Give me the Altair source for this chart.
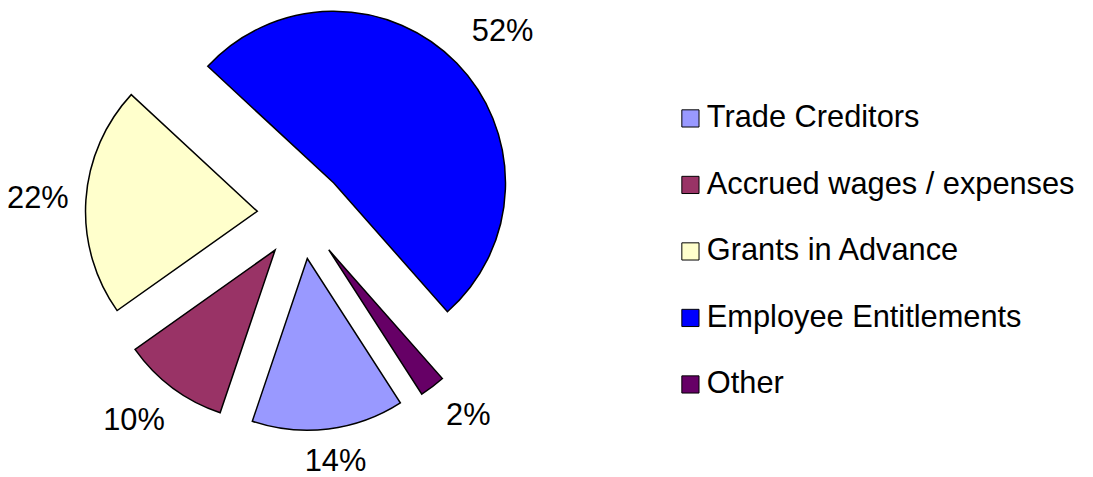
import math
import altair as alt
import pandas as pd

# ---- data (slice shares, %) ----
categories = ["Trade Creditors", "Accrued wages / expenses", "Grants in Advance",
              "Employee Entitlements", "Other"]
shares = [14.3, 10.0, 21.7, 51.6, 2.4]

# ---- styles ----
palette = ["#9999FF", "#993366", "#FFFFCC", "#0000FF", "#660066"]
FONT = "Liberation Sans"
FS = 31
START = math.radians(147.2)  # first slice angle (clockwise from 12 o'clock)
CX, CY = 296, 206            # pie centre in plot pixels
R = 173                      # pie radius
EXPLODE = 45                 # explosion distance
K = 188                      # label box distance from slice apex
HH = 14.4                    # half label-box height
PUSH_X = 25                  # extra sideways push of diagonal labels
PUSH_Y = 10                  # extra lift of lower diagonal labels

df = pd.DataFrame({"category": categories, "share": shares,
                   "order": list(range(len(categories)))})

base = (
    alt.Chart(df)
    .transform_window(cum="sum(share)", sort=[alt.SortField("order")], frame=[None, 0])
    .transform_joinaggregate(total="sum(share)")
    .transform_calculate(t1=f"{START} + 2*PI*datum.cum/datum.total")
    .transform_calculate(t0="datum.t1 - 2*PI*datum.share/datum.total")
    .transform_calculate(mid="(datum.t0 + datum.t1)/2")
    .transform_calculate(cx=f"{CX} + {EXPLODE}*sin(datum.mid)",
                         cy=f"{CY} - {EXPLODE}*cos(datum.mid)")
)

pie = base.mark_arc(stroke="black", strokeWidth=1.5, radius=R).encode(
    x=alt.X("cx:Q", scale=None, axis=None),
    y=alt.Y("cy:Q", scale=None, axis=None),
    theta=alt.Theta("t0:Q", scale=None),
    theta2="t1:Q",
    color=alt.Color(
        "category:N",
        scale=alt.Scale(domain=categories, range=palette),
        legend=alt.Legend(
            title=None, orient="none", legendX=672, legendY=94,
            symbolType="square", symbolSize=300, symbolStrokeColor="black",
            symbolStrokeWidth=1, symbolOpacity=1,
            labelFont=FONT, labelFontSize=FS, labelColor="black",
            labelOffset=1, rowPadding=35, padding=0, labelLimit=0,
        ),
    ),
)

labels = (
    base.transform_calculate(
        label="round(100*datum.share/datum.total) + '%'")
    .transform_calculate(hw=f"0.5*{FS}*(0.556*(length(datum.label)-1)+0.889)")
    .transform_calculate(
        dist=f"{K} + datum.hw*abs(sin(datum.mid)) + {HH}*abs(cos(datum.mid))")
    .transform_calculate(
        lx=("datum.cx + datum.dist*sin(datum.mid)"
            f" + {PUSH_X}*sin(datum.mid)*abs(cos(datum.mid))"),
        ly=("datum.cy - datum.dist*cos(datum.mid)"
            f" + {PUSH_Y}*min(cos(datum.mid), 0)*abs(sin(datum.mid))"),
    )
    .mark_text(font=FONT, fontSize=FS, align="center", baseline="middle",
               color="black", dy=2)
    .encode(
        x=alt.X("lx:Q", scale=None, axis=None),
        y=alt.Y("ly:Q", scale=None, axis=None),
        text="label:N",
    )
)

chart = (
    alt.layer(pie, labels)
    .properties(width=1085, height=469, autosize="none", padding=0)
    .configure_view(stroke=None)
)

chart.save("out.html", embed_options={"renderer": "svg", "actions": False})
